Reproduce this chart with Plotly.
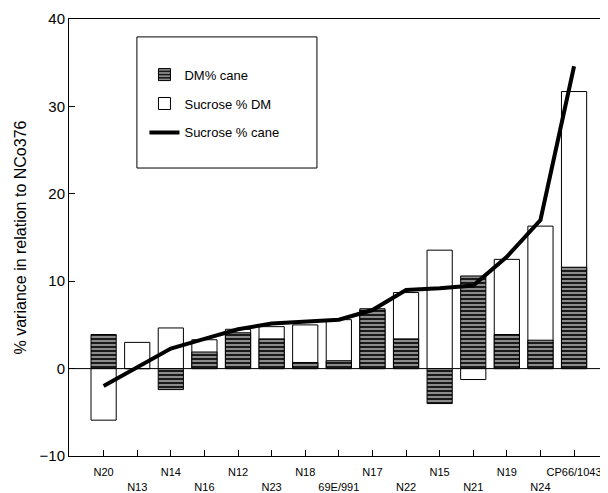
import plotly.graph_objects as go

categories = ["N20", "N13", "N14", "N16", "N12", "N23", "N18", "69E/991",
              "N17", "N22", "N15", "N21", "N19", "N24", "CP66/1043"]
dm_cane = [3.9, 0.0, -2.4, 1.9, 4.1, 3.4, 0.7, 0.9, 6.7, 3.4, -4.0, 10.6, 3.9, 3.25, 11.6]
sucrose_dm = [-5.9, 3.0, 4.65, 3.3, 4.5, 4.8, 5.0, 5.6, 6.85, 8.7, 13.55, -1.25, 12.5, 16.3, 31.7]
sucrose_cane = [-2.0, 0.2, 2.3, 3.4, 4.5, 5.15, 5.4, 5.6, 6.7, 9.0, 9.2, 9.5, 12.8, 17.0, 34.6]
y_ticks = [-10, 0, 10, 20, 30, 40]

x = list(range(len(categories)))
tick_text = [c if i % 2 == 0 else "<br>" + c for i, c in enumerate(categories)]

font = "Liberation Sans, Arial, sans-serif"

fig = go.Figure()
fig.add_trace(go.Bar(
    x=x, y=sucrose_dm, name="Sucrose % DM", width=0.75,
    marker=dict(color="white", line=dict(color="black", width=1)),
    legendgroup="b", legendrank=2,
))
fig.add_trace(go.Bar(
    x=x, y=dm_cane, name="DM% cane", width=0.75,
    marker=dict(color="#1a1a1a", line=dict(color="black", width=1),
                pattern=dict(shape="-", fgcolor="#d8d8d8", bgcolor="#1a1a1a",
                             size=4, solidity=0.3, fillmode="replace")),
    legendgroup="a", legendrank=1,
))
fig.add_trace(go.Scatter(
    x=x, y=sucrose_cane, name="Sucrose % cane", mode="lines",
    line=dict(color="black", width=4),
    legendgroup="c", legendrank=3,
))

fig.update_layout(
    width=600, height=485,
    margin=dict(l=61, r=0, t=11, b=37, autoexpand=False),
    barmode="overlay",
    plot_bgcolor="white", paper_bgcolor="white",
    font=dict(family=font, color="black"),
    showlegend=True,
    legend=dict(x=0.14, y=0.907, xanchor="left", yanchor="top",
                bgcolor="rgba(0,0,0,0)", borderwidth=0,
                font=dict(size=13, family=font),
                traceorder="grouped", tracegroupgap=9),
    shapes=[
        dict(type="rect", xref="paper", yref="paper",
             x0=0.126, x1=0.460, y0=0.659, y1=0.959,
             line=dict(color="black", width=1), fillcolor="rgba(0,0,0,0)",
             layer="above"),
        dict(type="line", xref="paper", yref="y", x0=0, x1=1, y0=0, y1=0,
             line=dict(color="black", width=1), layer="below"),
    ],
)
fig.update_xaxes(
    range=[-1.03, 15.01], tickmode="array", tickvals=x, ticktext=tick_text,
    tickangle=0, automargin=False,
    showline=True, linecolor="black", linewidth=1, mirror=True,
    ticks="inside", ticklen=6, tickcolor="black",
    showgrid=False, zeroline=False,
    tickfont=dict(size=11, family=font), ticklabelstandoff=6,
)
fig.update_yaxes(
    range=[-10, 40], tickvals=y_ticks, automargin=False,
    showline=True, linecolor="black", linewidth=1,
    ticks="inside", ticklen=6, tickcolor="black",
    showgrid=False, zeroline=False,
    tickfont=dict(size=15, family=font),
    title=dict(text="% variance in relation to NCo376", font=dict(size=16, family=font), standoff=8),
)

fig.write_html("out.html")
